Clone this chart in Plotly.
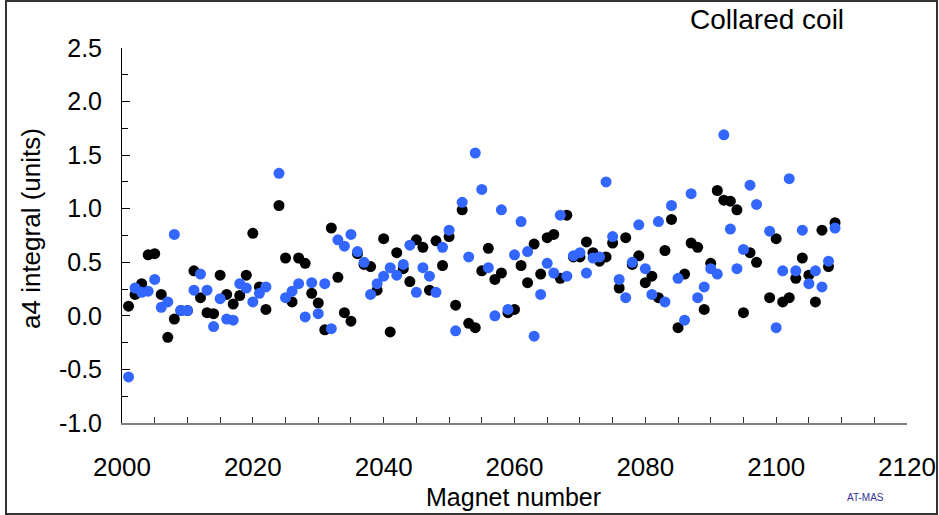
import plotly.graph_objects as go

magnets = list(range(2001, 2023)) + list(range(2024, 2098)) + list(range(2099, 2110))

black_vals = [
    0.09, 0.20, 0.30, 0.57, 0.58, 0.20, -0.20, -0.03, 0.05, 0.05,
    0.42, 0.17, 0.03, 0.02, 0.38, 0.20, 0.11, 0.19, 0.38, 0.77,
    0.27, 0.06,
    1.03, 0.54, 0.13, 0.54, 0.49, 0.21, 0.12, -0.13, 0.82, 0.36,
    0.03, -0.05, 0.58, 0.48, 0.46, 0.24, 0.72, -0.15, 0.59, 0.44,
    0.32, 0.71, 0.64, 0.24, 0.70, 0.47, 0.74, 0.10, 0.99, -0.07,
    -0.11, 0.42, 0.63, 0.34, 0.40, 0.03, 0.06, 0.47, 0.31, 0.67,
    0.39, 0.73, 0.76, 0.35, 0.94, 0.55, 0.55, 0.69, 0.59, 0.51,
    0.55, 0.68, 0.26, 0.73, 0.48, 0.56, 0.31, 0.37, 0.17, 0.61,
    0.90, -0.11, 0.39, 0.68, 0.64, 0.06, 0.49, 1.17, 1.08, 1.07,
    0.99, 0.03, 0.59, 0.50,
    0.17, 0.72, 0.13, 0.17, 0.35, 0.54, 0.38, 0.13, 0.80, 0.46, 0.87,
]

blue_vals = [
    -0.57, 0.26, 0.22, 0.23, 0.34, 0.08, 0.13, 0.76, 0.05, 0.05,
    0.24, 0.39, 0.24, -0.10, 0.16, -0.03, -0.04, 0.30, 0.26, 0.13,
    0.21, 0.27,
    1.33, 0.17, 0.23, 0.30, -0.01, 0.31, 0.02, 0.30, -0.12, 0.71,
    0.65, 0.76, 0.60, 0.50, 0.20, 0.30, 0.37, 0.45, 0.38, 0.48,
    0.66, 0.22, 0.45, 0.37, 0.22, 0.64, 0.80, -0.14, 1.06, 0.55,
    1.52, 1.18, 0.45, 0.00, 0.99, 0.06, 0.57, 0.88, 0.60, -0.19,
    0.20, 0.49, 0.40, 0.94, 0.37, 0.56, 0.59, 0.40, 0.54, 0.55,
    1.25, 0.74, 0.34, 0.17, 0.50, 0.85, 0.44, 0.20, 0.88, 0.13,
    1.03, 0.35, -0.04, 1.14, 0.17, 0.27, 0.44, 0.39, 1.69, 0.81,
    0.44, 0.62, 1.22, 1.04,
    0.79, -0.11, 0.42, 1.28, 0.42, 0.80, 0.30, 0.42, 0.27, 0.51, 0.82,
]

x_tick_vals = [2000, 2020, 2040, 2060, 2080, 2100, 2120]
y_tick_vals = [-1.0, -0.5, 0.0, 0.5, 1.0, 1.5, 2.0, 2.5]

FONT = "Liberation Sans, Arial, sans-serif"

fig = go.Figure()
fig.add_trace(go.Scatter(
    x=magnets, y=black_vals, mode="markers", name="black",
    marker=dict(color="#000000", size=11, line=dict(width=0)),
))
fig.add_trace(go.Scatter(
    x=magnets, y=blue_vals, mode="markers", name="blue",
    marker=dict(color="#3366ff", size=11, line=dict(width=0)),
))

L, R, T, B = 122, 32, 48, 92
W, H = 939, 515
pw, ph = W - L - R, H - T - B


def px(xp):
    return (xp - L) / pw


def py(yp):
    return (H - B - yp) / ph


fig.update_layout(
    width=W, height=H,
    margin=dict(l=L, r=R, t=T, b=B, autoexpand=False),
    paper_bgcolor="white", plot_bgcolor="white",
    showlegend=False,
    font=dict(family=FONT, color="black"),
    xaxis=dict(
        range=[2000, 2120], tickvals=x_tick_vals,
        ticktext=[str(v) for v in x_tick_vals],
        showgrid=False, zeroline=False,
        showline=True, linecolor="#808080", linewidth=1.5,
        ticks="inside", ticklen=6, tickcolor="#333333", tickwidth=1,
        minor=dict(dtick=5, ticks="inside", ticklen=6, tickcolor="#333333", tickwidth=1, showgrid=False),
        tickfont=dict(size=26, family=FONT),
        ticklabelstandoff=20,
    ),
    yaxis=dict(
        range=[-1.0, 2.5], tickvals=y_tick_vals,
        ticktext=[f"{v:.1f}" for v in y_tick_vals],
        showgrid=False, zeroline=False,
        showline=True, linecolor="black", linewidth=1,
        ticks="inside", ticklen=8, tickcolor="black", tickwidth=1,
        minor=dict(dtick=0.25, ticks="inside", ticklen=6, tickcolor="black", tickwidth=1, showgrid=False),
        tickfont=dict(size=25, family=FONT),
        ticklabelstandoff=14,
    ),
    shapes=[dict(
        type="rect", xref="paper", yref="paper",
        x0=px(6), x1=px(937), y0=py(514), y1=py(1),
        line=dict(color="#333333", width=2), fillcolor="rgba(0,0,0,0)",
    )],
    annotations=[
        dict(text="Collared coil", xref="paper", yref="paper", x=px(767), y=py(19),
             xanchor="center", yanchor="middle", showarrow=False,
             font=dict(size=28, family=FONT, color="black")),
        dict(text="a4 integral (units)", xref="paper", yref="paper", x=px(31), y=py(229),
             xanchor="center", yanchor="middle", showarrow=False, textangle=-90,
             font=dict(size=26, family=FONT, color="black")),
        dict(text="Magnet number", xref="paper", yref="paper", x=px(513), y=py(497),
             xanchor="center", yanchor="middle", showarrow=False,
             font=dict(size=25, family=FONT, color="black")),
        dict(text="AT-MAS", xref="paper", yref="paper", x=px(865), y=py(497),
             xanchor="center", yanchor="middle", showarrow=False,
             font=dict(size=10, family=FONT, color="#333399")),
    ],
)

fig.write_html(
    "out.html",
    config={"displayModeBar": False},
    post_script="document.body.style.margin='0';document.body.style.padding='0';document.body.style.overflow='hidden';",
)
